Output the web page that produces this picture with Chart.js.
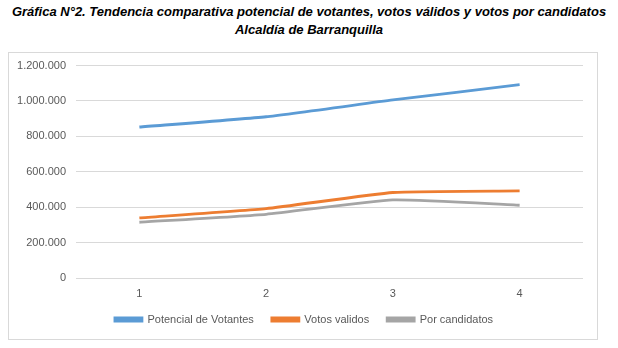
<!DOCTYPE html>
<html>
<head>
<meta charset="utf-8">
<script src="https://cdn.jsdelivr.net/npm/chart.js@4"></script>
<style>
  html, body { margin: 0; padding: 0; background: #fff; }
  body { width: 618px; height: 348px; position: relative; overflow: hidden; }
  #title {
    position: absolute; left: 0; top: 3px; width: 618px;
    text-align: center; font-family: "Liberation Sans", Arial, sans-serif;
    font-weight: bold; font-style: italic; font-size: 13px; line-height: 18px; color: #000;
  }
  #box {
    position: absolute; left: 8px; top: 52px; width: 588px; height: 286px;
    border: 1px solid #d9d9d9;
  }
  #chart { position: absolute; left: 0; top: -4px; }
</style>
</head>
<body>
<div id="title">Gráfica N°2. Tendencia comparativa potencial de votantes, votos válidos y votos por candidatos<br>Alcaldía de Barranquilla</div>
<div id="box"><canvas id="chart" width="588" height="289"></canvas></div>
<script>
const periodos = ["1", "2", "3", "4"];
const potencialVotantes = [853000, 911000, 1006000, 1092000];
const votosValidos = [340000, 392000, 483000, 492000];
const porCandidatos = [315000, 360000, 441000, 411000];

const fontFam = "'Liberation Sans', Arial, sans-serif";
const gris = "#595959";

function serie(label, data, color) {
  return {
    label: label,
    data: data,
    borderColor: color,
    backgroundColor: color,
    borderWidth: 2.8,
    pointRadius: 0,
    tension: 0.15,
    fill: false
  };
}

// miles con punto, como en el original
function fmt(v) {
  return String(v).replace(/\B(?=(\d{3})+(?!\d))/g, ".");
}

// corre la leyenda: centrada en el recuadro y más pegada al eje
const moverLeyenda = {
  id: "moverLeyenda",
  afterLayout(chart) {
    const lg = chart.legend;
    if (!lg) return;
    lg.left += 8; lg.right += 8;
    lg.top -= 6; lg.bottom -= 6;
  }
};

new Chart(document.getElementById("chart"), {
  type: "line",
  data: {
    labels: periodos,
    datasets: [
      serie("Potencial de Votantes", potencialVotantes, "#5b9bd5"),
      serie("Votos validos", votosValidos, "#ed7d31"),
      serie("Por candidatos", porCandidatos, "#a5a5a5")
    ]
  },
  options: {
    responsive: false,
    animation: false,
    layout: { padding: { top: 4, right: 14, bottom: -3, left: 0 } },
    plugins: {
      legend: {
        position: "bottom",
        labels: {
          boxWidth: 27,
          boxHeight: 3,
          padding: 18,
          color: gris,
          font: { family: fontFam, size: 11 }
        }
      },
      tooltip: { enabled: false }
    },
    scales: {
      x: {
        offset: true,
        grid: { display: false, drawTicks: false },
        border: { display: false },
        ticks: { color: gris, padding: 9, font: { family: fontFam, size: 11 } },
        afterFit(scale) { scale.height = 24; }
      },
      y: {
        min: 0,
        max: 1200000,
        grid: { color: "#d9d9d9", lineWidth: 1, drawTicks: false },
        border: { display: false },
        ticks: {
          stepSize: 200000,
          color: gris,
          padding: 10,
          font: { family: fontFam, size: 11 },
          callback: v => fmt(v)
        },
        afterFit(scale) { scale.width = 67; }
      }
    }
  },
  plugins: [moverLeyenda]
});
</script>
</body>
</html>
